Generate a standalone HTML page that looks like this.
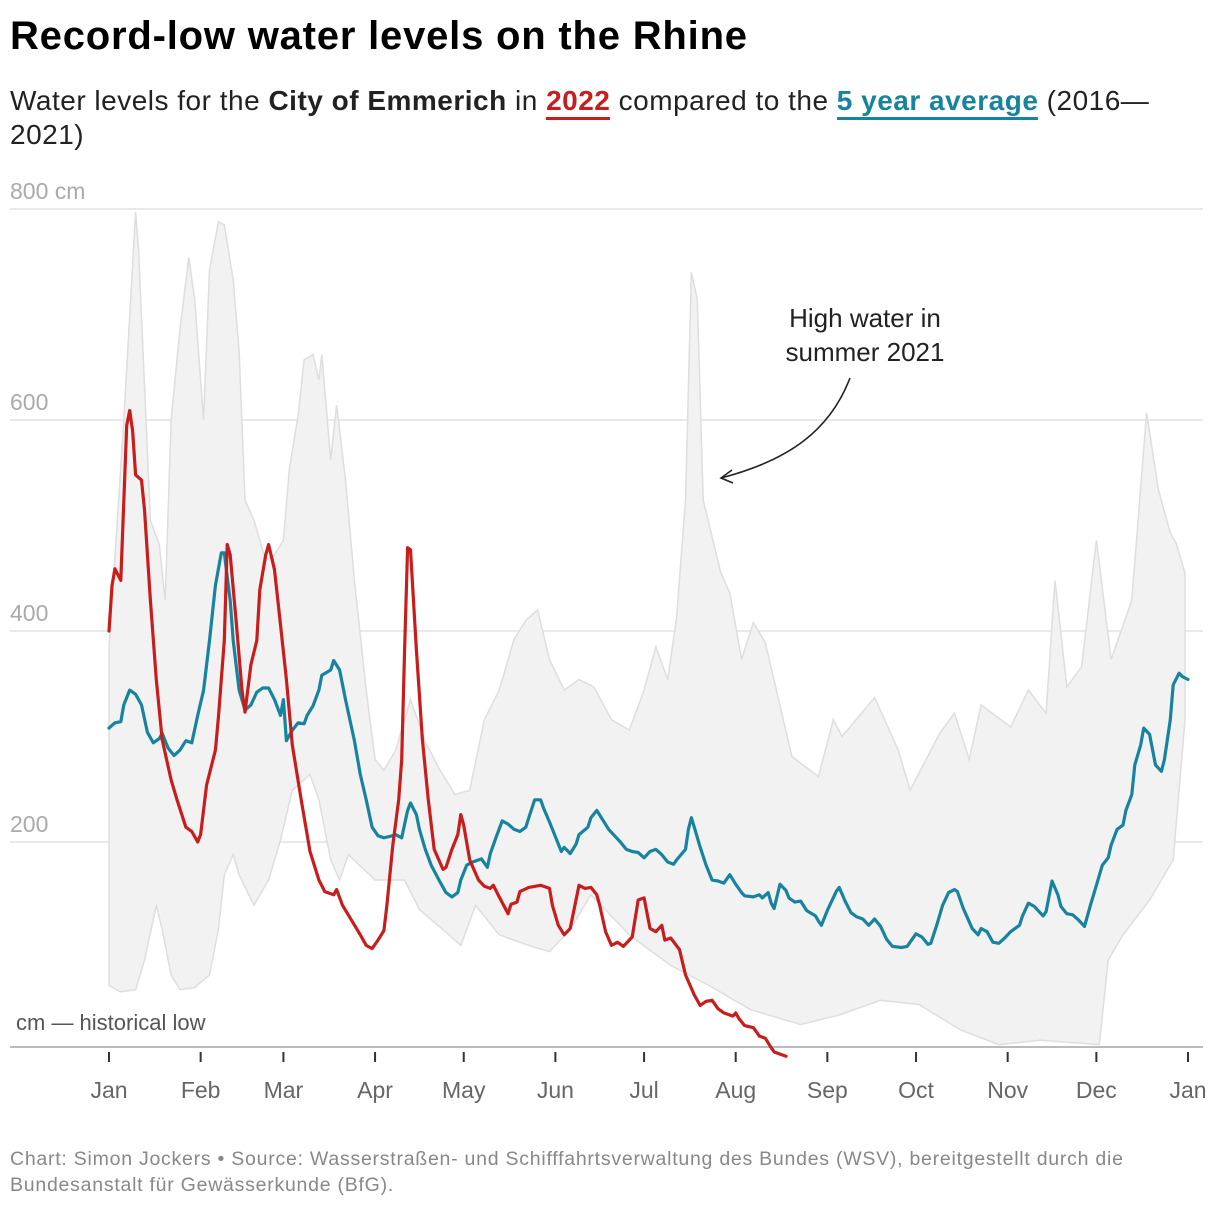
<!DOCTYPE html>
<html><head><meta charset="utf-8">
<style>
body{margin:0;background:#fff;font-family:"Liberation Sans",sans-serif;}
#wrap{position:relative;width:1220px;height:1208px;overflow:hidden;}
h1{position:absolute;left:10px;top:14px;margin:0;font-size:40px;font-weight:bold;color:#000;letter-spacing:0.8px;white-space:nowrap;}
.sub{position:absolute;left:10px;top:84px;width:1200px;font-size:28px;line-height:34px;color:#222;margin:0;letter-spacing:0.5px;white-space:nowrap;}
.u{font-weight:bold;border-bottom:3px solid;padding-bottom:1px;}
.foot{position:absolute;left:10px;top:1146px;width:1200px;font-size:19.5px;line-height:26px;color:#888;letter-spacing:0.75px;white-space:nowrap;}
svg{position:absolute;left:0;top:0;}
</style></head><body>
<div id="wrap">
<h1>Record-low water levels on the Rhine</h1>
<p class="sub">Water levels for the <b>City of Emmerich</b> in <span class="u" style="color:#c71e1d">2022</span> compared to the <span class="u" style="color:#18839e">5 year average</span> (2016—<br>2021)</p>
<svg id="chart" width="1220" height="1208"></svg>
<div class="foot">Chart: Simon Jockers • Source: Wasserstraßen- und Schifffahrtsverwaltung des Bundes (WSV), bereitgestellt durch die<br>Bundesanstalt für Gewässerkunde (BfG).</div>
</div>
<script>
const yTicks=[800,600,400,200];
const yTickLabels=["800 cm","600","400","200"];
const months=["Jan","Feb","Mar","Apr","May","Jun","Jul","Aug","Sep","Oct","Nov","Dec","Jan"];
const monthDays=[0,31,59,90,120,151,181,212,243,273,304,334,365];
const redDays=[0,1,2,4,6,7,8,9,11,12,14,16,18,21,23,26,28,30,31,33,36,37,39,40,41,43,45,46,48,50,51,53,54,56,58,60,62,65,68,71,73,76,77,79,82,85,87,89,91,93,94,96,98,99,100,101,102,104,106,108,110,113,114,116,118,119,120,122,125,127,129,130,132,135,136,138,139,142,146,149,150,152,154,156,159,161,163,165,166,168,170,172,174,177,179,181,183,185,187,188,190,193,195,198,200,202,204,206,208,211,212,213,215,218,220,222,224,225,227,229];
const redVals=[400,443,459,448,595,609,590,548,543,515,429,354,297,259,240,214,210,200,207,254,287,318,391,482,472,410,344,323,368,391,439,472,482,458,406,354,292,240,191,164,153,150,155,140,126,112,102,99,107,116,140,197,240,278,382,479,477,382,297,240,193,174,176,193,207,226,216,183,164,158,156,159,148,132,141,143,153,157,159,156,140,121,112,118,159,156,157,150,140,115,102,105,101,110,145,147,118,115,121,107,109,98,74,55,45,49,50,42,38,35,38,33,26,24,16,14,5,1,-1,-3];
const avgDays=[0,2,4,5,7,9,11,13,15,17,18,20,22,24,26,28,30,32,34,36,38,39,41,42,44,46,48,50,52,54,56,58,59,60,62,64,66,67,69,71,72,75,76,78,80,83,85,87,89,91,93,96,97,99,101,102,104,105,107,109,112,114,116,118,119,121,123,126,128,129,131,133,135,137,139,141,142,144,146,147,149,151,153,154,156,158,159,162,163,165,167,169,171,173,175,177,179,181,183,185,187,189,191,192,195,196,197,198,200,202,204,206,208,210,212,214,215,218,220,221,223,224,225,227,229,230,232,234,236,239,240,241,243,246,247,249,251,253,255,257,259,261,263,265,268,270,271,273,275,277,278,280,282,284,286,287,289,292,294,295,297,299,301,303,305,308,309,311,313,316,317,319,321,322,324,326,328,330,332,334,336,338,339,341,343,344,346,347,349,350,352,354,356,357,359,360,362,363,365];
const avgVals=[308,313,314,330,344,340,330,304,294,298,303,289,282,287,296,294,320,344,391,443,474,474,429,391,344,325,330,342,346,346,335,320,335,296,306,313,312,320,329,344,358,363,372,363,335,296,264,240,214,206,204,206,207,204,230,237,226,212,193,178,162,152,148,152,164,178,181,184,176,189,205,220,217,212,210,214,223,240,240,232,219,205,191,195,189,198,207,214,223,230,221,212,206,200,193,191,190,185,191,193,188,181,179,183,193,212,223,214,195,178,164,163,161,169,160,152,149,148,150,147,152,142,137,160,154,147,143,144,135,130,125,121,135,153,157,144,133,129,127,121,127,120,108,101,100,101,105,113,110,103,104,121,140,152,155,153,137,118,112,118,115,105,104,109,115,121,130,142,139,130,134,163,150,139,132,131,126,120,140,159,178,185,197,212,216,230,245,273,292,308,302,273,267,278,316,349,360,357,354];
const bandHiDays=[0,5,9,10,14,17,19,21,24,27,29,32,34,37,39,42,44,46,49,53,56,59,61,64,66,69,71,72,75,77,80,83,87,90,93,97,102,107,112,117,122,127,132,137,141,145,149,154,159,164,170,176,181,185,189,192,195,197,199,201,207,210,214,218,222,231,240,245,248,259,267,271,281,286,291,295,305,311,317,320,324,329,334,339,346,351,355,359,361,364];
const bandHiVals=[382,600,797,761,505,482,429,600,685,754,714,600,742,788,785,733,666,524,505,467,472,486,553,605,657,662,638,662,562,614,543,448,344,278,268,287,335,295,268,245,249,316,344,392,410,420,373,344,354,347,316,306,344,385,354,413,524,740,714,524,455,436,373,408,389,281,262,316,300,337,287,249,303,322,278,330,309,344,322,448,347,366,486,373,429,607,534,493,483,455];
const bandLoDays=[0,4,9,12,16,18,21,24,29,34,37,39,42,44,49,54,58,62,68,71,75,78,81,90,100,105,115,119,124,132,142,149,156,163,176,190,203,217,234,247,261,274,288,301,315,335,338,343,352,360,364];
const bandLoVals=[64,58,60,88,140,117,74,60,62,74,117,169,188,169,140,164,202,249,264,240,183,164,188,164,164,136,112,102,140,112,102,96,117,150,112,83,64,41,27,36,50,46,22,8,12,8,88,112,145,183,316];

const NS="http://www.w3.org/2000/svg";
const svg=document.getElementById('chart');
const X0=109,X1=1188,Y0=1053,PX=1.055;
function xs(d){return X0+d*(X1-X0)/365;}
function ys(v){return Y0-v*PX;}
function mk(tag,attrs){const e=document.createElementNS(NS,tag);for(const k in attrs)e.setAttribute(k,attrs[k]);svg.appendChild(e);return e;}

yTicks.forEach((t,i)=>{
  const g=mk('line',{x1:10,x2:1203,y1:ys(t),y2:ys(t),stroke:'#dcdcdc','stroke-width':1.3});
  
  
  const tx=mk('text',{x:10,y:ys(t)-10,fill:'#aaa','font-size':23,'font-family':'Liberation Sans, sans-serif'});
  tx.textContent=yTickLabels[i];
  
  
});

let bp='';
bandHiDays.forEach((d,i)=>{bp+=(i?'L':'M')+xs(d).toFixed(1)+','+ys(bandHiVals[i]).toFixed(1);});
for(let i=bandLoDays.length-1;i>=0;i--){bp+='L'+xs(bandLoDays[i]).toFixed(1)+','+ys(bandLoVals[i]).toFixed(1);}
bp+='Z';
const band=mk('path',{d:bp,fill:'#f2f2f2',stroke:'#dedede','stroke-width':1.5});



function line(days,vals,color,name){
  let p='';days.forEach((d,i)=>{p+=(i?'L':'M')+xs(d).toFixed(1)+','+ys(vals[i]).toFixed(1);});
  const e=mk('path',{d:p,fill:'none',stroke:color,'stroke-width':3.2,'stroke-linejoin':'round','stroke-linecap':'round'});
  
  
}

const bl=mk('line',{x1:10,x2:1203,y1:1047,y2:1047,stroke:'#bbb','stroke-width':2});


const blt=mk('text',{x:16,y:1030,fill:'#555','font-size':22,'font-family':'Liberation Sans, sans-serif'});
blt.textContent='cm — historical low';



line(avgDays,avgVals,'#18839e','line-5-year-average');
line(redDays,redVals,'#c71e1d','line-2022');

months.forEach((m,i)=>{
  const x=xs(monthDays[i]);
  const t=mk('line',{x1:x,x2:x,y1:1052,y2:1062,stroke:'#333','stroke-width':2});
  
  
  const l=mk('text',{x:x,y:1098,fill:'#666','font-size':23,'text-anchor':'middle','font-family':'Liberation Sans, sans-serif'});
  l.textContent=m;
  
  
});

['High water in','summer 2021'].forEach((s,i)=>{
  const a=mk('text',{x:865,y:327+i*34,fill:'#222','font-size':26,'text-anchor':'middle','font-family':'Liberation Sans, sans-serif'});
  a.textContent=s;
  
  
});
const arr=mk('path',{d:'M850,378 C830,430 790,460 721,478 M732,470 L721,478 L733,483',fill:'none',stroke:'#222','stroke-width':1.6});


</script>
</body></html>
